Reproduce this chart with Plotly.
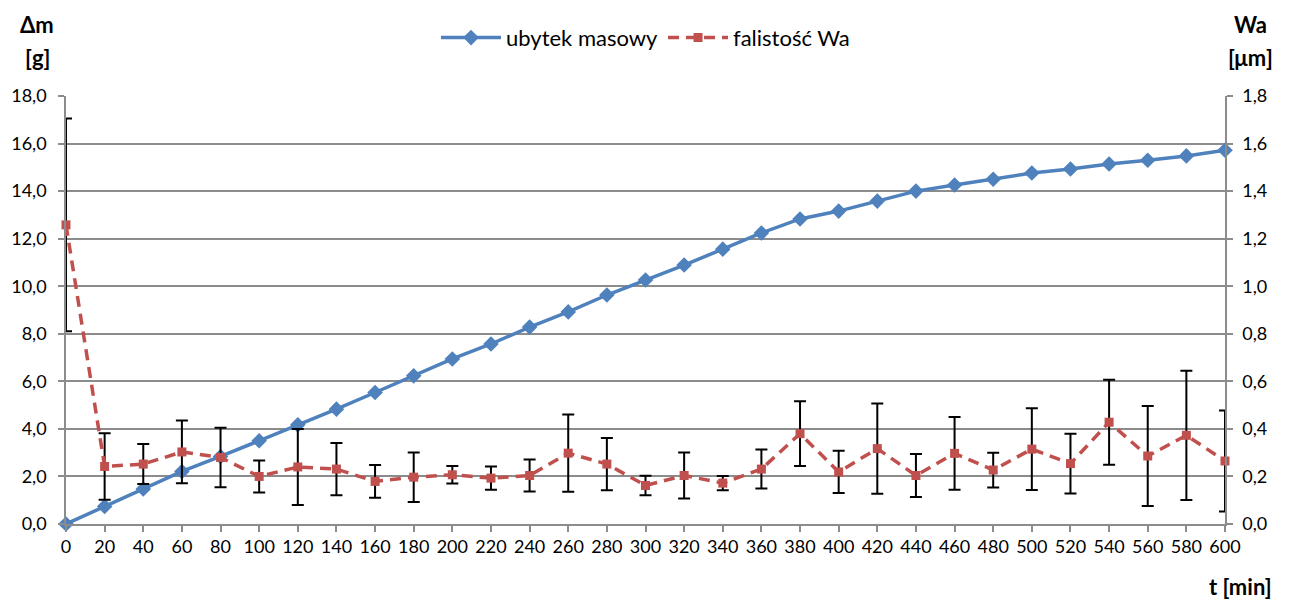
import plotly.graph_objects as go

t_min = [0, 20, 40, 60, 80, 100, 120, 140, 160, 180, 200, 220, 240, 260, 280, 300,
         320, 340, 360, 380, 400, 420, 440, 460, 480, 500, 520, 540, 560, 580, 600]

ubytek_masowy = [0.0, 0.74, 1.47, 2.21, 2.84, 3.50, 4.17, 4.83, 5.53, 6.23, 6.94,
                 7.57, 8.28, 8.92, 9.63, 10.26, 10.89, 11.56, 12.24, 12.83, 13.16,
                 13.58, 14.00, 14.26, 14.50, 14.76, 14.93, 15.14, 15.30, 15.48, 15.72]

falistosc_wa = [1.258, 0.242, 0.252, 0.303, 0.280, 0.200, 0.240, 0.231, 0.179, 0.197,
                0.207, 0.193, 0.204, 0.298, 0.252, 0.162, 0.204, 0.172, 0.231, 0.380,
                0.219, 0.317, 0.204, 0.297, 0.227, 0.315, 0.254, 0.428, 0.286, 0.373, 0.265]

falistosc_err = [0.447, 0.140, 0.084, 0.132, 0.125, 0.067, 0.160, 0.110, 0.069, 0.104,
                 0.037, 0.049, 0.067, 0.162, 0.110, 0.041, 0.097, 0.030, 0.082, 0.136,
                 0.089, 0.190, 0.090, 0.153, 0.073, 0.172, 0.126, 0.179, 0.210, 0.272, 0.212]

FONT = "Lato"
BLUE = "#4F81BD"
RED = "#C0504D"
GRID = "#8C8C8C"

fig = go.Figure()

fig.add_trace(go.Scatter(
    x=t_min, y=ubytek_masowy, name="ubytek masowy", mode="lines+markers",
    line=dict(color=BLUE, width=3.5),
    marker=dict(symbol="diamond", size=12, color=BLUE),
    cliponaxis=False, yaxis="y",
))

fig.add_trace(go.Scatter(
    x=t_min, y=falistosc_wa, name="falistość Wa", mode="lines+markers",
    line=dict(color=RED, width=3.5, dash="11px,7px"),
    marker=dict(symbol="square", size=9, color=RED),
    error_y=dict(type="data", array=falistosc_err, visible=True,
                 color="black", thickness=2, width=6),
    cliponaxis=False, yaxis="y2",
))

fig.update_layout(
    width=1286, height=591,
    margin=dict(l=58, r=69, t=88, b=75, autoexpand=False),
    paper_bgcolor="white", plot_bgcolor="white",
    separators=", ",
    font=dict(family=FONT, size=18, color="black"),
    showlegend=True,
    legend=dict(orientation="h", x=0.5, xanchor="center", y=1.136, yanchor="middle",
                font=dict(family=FONT, size=22), itemwidth=60, bgcolor="rgba(0,0,0,0)"),
    xaxis=dict(range=[0, 600], dtick=20, tick0=0, showgrid=False, zeroline=False,
               showline=True, linecolor=GRID, linewidth=1.5, automargin=False,
               ticks="outside", ticklen=6, tickcolor=GRID, tickwidth=1.5,
               tickfont=dict(family=FONT, size=18)),
    yaxis=dict(range=[0, 18], dtick=2, tick0=0, tickformat=".1f",
               showgrid=True, gridcolor=GRID, gridwidth=1.5, zeroline=False,
               showline=True, linecolor=GRID, linewidth=1.5, automargin=False,
               ticks="outside", ticklen=6, tickcolor=GRID, tickwidth=1.5,
               ticklabelstandoff=8,
               tickfont=dict(family=FONT, size=18)),
    yaxis2=dict(range=[0, 1.8], dtick=0.2, tick0=0, tickformat=".1f",
                overlaying="y", side="right", showgrid=False, zeroline=False,
                showline=True, linecolor=GRID, linewidth=1.5, automargin=False,
                ticks="outside", ticklen=6, tickcolor=GRID, tickwidth=1.5,
                ticklabelstandoff=6,
                tickfont=dict(family=FONT, size=18)),
)

title_font = dict(family=FONT, size=22, color="black", weight="bold")
annos = [
    ("Δm", -0.025, 1.166), ("[g]", -0.025, 1.091),
    ("Wa", 1.0224, 1.166), ("[μm]", 1.0224, 1.091),
    ("t [min]", 1.013, -0.147),
]
for txt, xx, yy in annos:
    fig.add_annotation(text=txt, x=xx, y=yy, xref="paper", yref="paper",
                       xanchor="center", yanchor="middle", showarrow=False,
                       font=title_font)

fig.write_html("out.html")
